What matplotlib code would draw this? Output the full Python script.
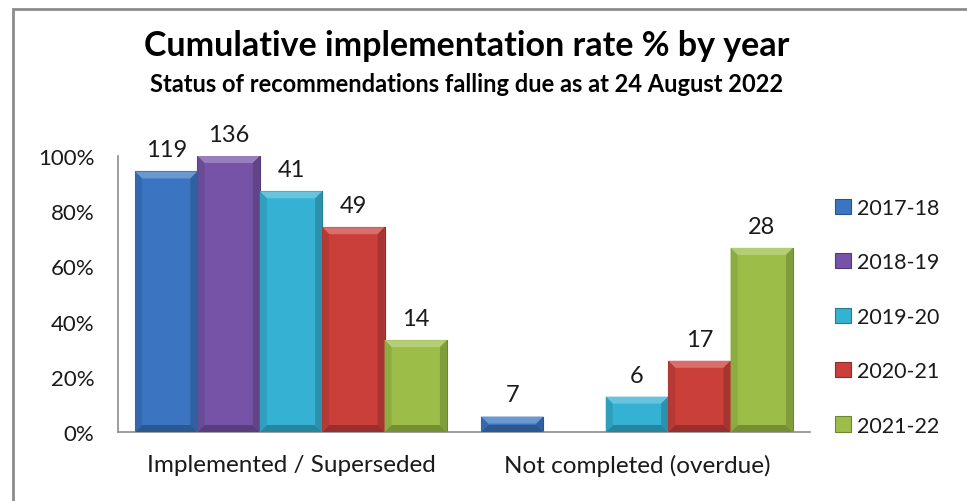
import matplotlib
matplotlib.use("Agg")
import matplotlib.pyplot as plt
from matplotlib.patches import Polygon, Rectangle
from matplotlib.colors import to_rgb
import numpy as np

plt.rcParams['font.family'] = ['Lato', 'DejaVu Sans']

categories = ["Implemented / Superseded", "Not completed (overdue)"]
years = ["2017-18", "2018-19", "2019-20", "2020-21", "2021-22"]
# percentages, per year: [implemented, not completed]
pct_2017_18 = [94.4, 5.6]
pct_2018_19 = [100.0, 0.0]
pct_2019_20 = [87.2, 12.8]
pct_2020_21 = [74.2, 25.8]
pct_2021_22 = [33.3, 66.7]
# count labels shown above bars (None = no label)
cnt_2017_18 = [119, 7]
cnt_2018_19 = [136, None]
cnt_2019_20 = [41, 6]
cnt_2020_21 = [49, 17]
cnt_2021_22 = [14, 28]
yticks = [0, 20, 40, 60, 80, 100]
ytick_labels = ["0%", "20%", "40%", "60%", "80%", "100%"]

series_pct = [pct_2017_18, pct_2018_19, pct_2019_20, pct_2020_21, pct_2021_22]
series_cnt = [cnt_2017_18, cnt_2018_19, cnt_2019_20, cnt_2020_21, cnt_2021_22]
colors = ["#3b75c2", "#7653a6", "#34b1d3", "#cb3f3b", "#9cbe48"]

W, H = 967, 502
fig = plt.figure(figsize=(W / 100, H / 100), dpi=100)

# outer frame
fig.patches.append(Rectangle((13 / W, -0.1), 1.2, 1 - 10 / H + 0.1, transform=fig.transFigure,
                             fill=False, edgecolor="#8c8c8c", linewidth=2))

ax = fig.add_axes([118 / W, 1 - 433 / H, (810 - 118) / W, (433 - 157) / H])
ax.set_xlim(-0.5, 1.5)
ax.set_ylim(0, 100)

x = np.arange(len(categories))
bw = 0.1803

def shade(c, f):
    r = np.array(to_rgb(c))
    if f > 0:
        return tuple(r + (1 - r) * f)
    return tuple(r * (1 + f))

for i, (vals, cnts, col) in enumerate(zip(series_pct, series_cnt, colors)):
    bars = ax.bar(x + (i - 2) * bw, vals, width=bw, color=col, edgecolor=shade(col, -0.3),
                  linewidth=0.8, zorder=2, label=years[i])
    for b, c in zip(bars, cnts):
        h = b.get_height()
        if h <= 0:
            continue
        x0, w = b.get_x(), b.get_width()
        dx = 7 / 346
        dy = min(7 / 2.76, h / 2)
        # bevel: top light, sides/bottom dark
        ax.add_patch(Polygon([(x0, h), (x0 + w, h), (x0 + w - dx, h - dy), (x0 + dx, h - dy)],
                             closed=True, facecolor=shade(col, 0.25), edgecolor="none", zorder=3))
        ax.add_patch(Polygon([(x0, 0), (x0 + dx, dy), (x0 + w - dx, dy), (x0 + w, 0)],
                             closed=True, facecolor=shade(col, -0.25), edgecolor="none", zorder=3))
        ax.add_patch(Polygon([(x0, 0), (x0, h), (x0 + dx, h - dy), (x0 + dx, dy)],
                             closed=True, facecolor=shade(col, -0.1), edgecolor="none", zorder=3))
        ax.add_patch(Polygon([(x0 + w, 0), (x0 + w, h), (x0 + w - dx, h - dy), (x0 + w - dx, dy)],
                             closed=True, facecolor=shade(col, -0.18), edgecolor="none", zorder=3))
        if c is not None:
            ax.annotate(str(c), (b.get_x() + w / 2, h), xytext=(0, 8), textcoords="offset points",
                        ha="center", va="bottom", fontsize=17, color="#1a1a1a", annotation_clip=False)

ax.set_yticks(yticks)
ax.set_yticklabels(ytick_labels, fontsize=16, color="#1a1a1a")
ax.set_xticks(x)
ax.set_xticklabels(categories, fontsize=17.5, color="#1a1a1a")
ax.tick_params(axis="both", length=0)
ax.tick_params(axis="y", pad=17)
ax.tick_params(axis="x", pad=16)
for s in ["top", "right"]:
    ax.spines[s].set_visible(False)
for s in ["left", "bottom"]:
    ax.spines[s].set_color("#8c8c8c")
    ax.spines[s].set_linewidth(1.2)

fig.text(467 / W, 1 - 46 / H, "Cumulative implementation rate % by year", ha="center", va="center",
         fontsize=24.5, fontweight="bold", color="#000000")
fig.text(467 / W, 1 - 85 / H, "Status of recommendations falling due as at 24 August 2022", ha="center",
         va="center", fontsize=17, fontweight="bold", color="#000000")

leg = ax.legend(loc="upper left", bbox_to_anchor=(824 / W, 1 - 188 / H), bbox_transform=fig.transFigure,
                frameon=False, fontsize=15.5, labelspacing=1.6, handlelength=0.75, handleheight=0.7,
                handletextpad=0.3, borderpad=0, labelcolor="#1a1a1a")

fig.savefig("out.png", dpi=100)
